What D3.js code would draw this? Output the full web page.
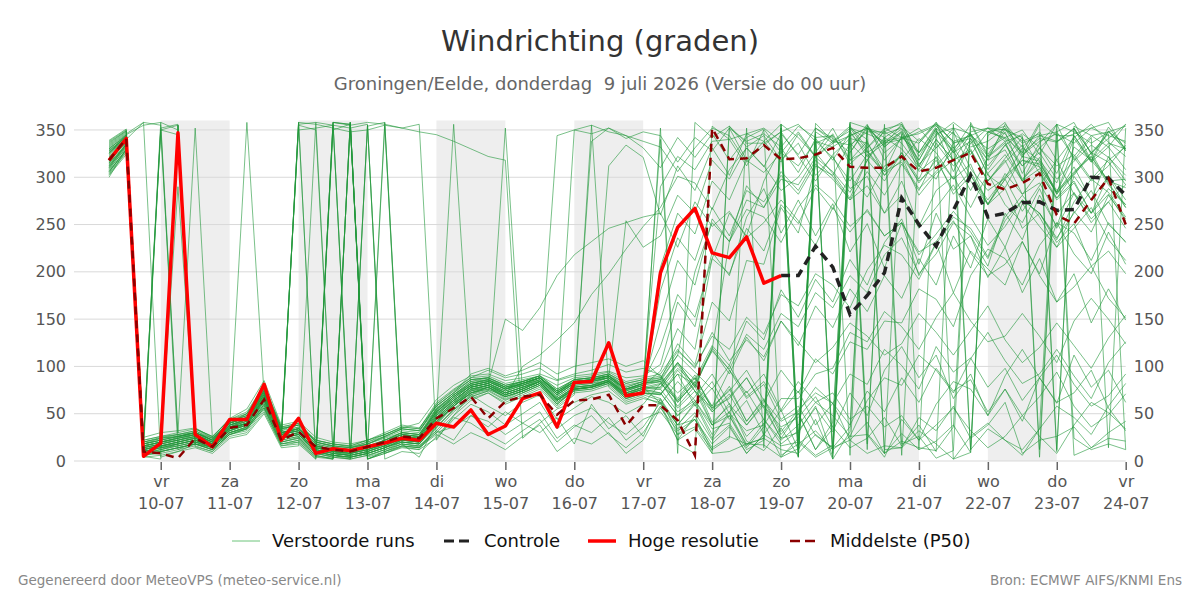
<!DOCTYPE html>
<html>
<head>
<meta charset="utf-8">
<script src="https://cdn.jsdelivr.net/npm/d3@7"></script>
<style>
  body { margin: 0; background: #fff; }
  svg { font-family: "DejaVu Sans", sans-serif; }
</style>
</head>
<body>
<script>
// time steps: hours relative to vr 10-07 00 UTC, 6-hourly from do 9 juli 06 UTC
const stepHours = d3.range(60).map(k => -18 + 6 * k);

const dayNames = ['vr', 'za', 'zo', 'ma', 'di', 'wo', 'do', 'vr', 'za', 'zo', 'ma', 'di', 'wo', 'do', 'vr'];
const dayDates = ['10-07', '11-07', '12-07', '13-07', '14-07', '15-07', '16-07', '17-07', '18-07', '19-07', '20-07', '21-07', '22-07', '23-07', '24-07'];
const yTicks = [0, 50, 100, 150, 200, 250, 300, 350];

const hogeResolutie = [318, 341, 5, 19, 347, 28, 15, 44, 44, 81, 22, 45, 8, 13, 11, 15, 19, 24, 22, 40, 36, 54, 28, 37, 66, 72, 36, 83, 84, 125, 69, 72, 199, 247, 267, 220, 215, 237, 188, 196];

const controle = [null, null, null, null, null, null, null, null, null, null, null, null, null, null, null, null, null, null, null, null,
  null, null, null, null, null, null, null, null, null, null, null, null, null, null, null, null, null, null, null,
  196, 196, 227, 205, 155, 175, 199, 278, 250, 227, 265, 302, 258, 262, 273, 274, 265, 266, 300, 299, 281];

const middelste = [318, 341, 10, 8, 3, 24, 15, 35, 38, 65, 22, 31, 15, 12, 10, 15, 20, 26, 24, 45, 56, 68, 45, 63, 68, 70, 49, 64, 65, 70,
  37, 59, 59, 43, 6, 352, 319, 320, 334, 319, 320, 324, 331, 311, 310, 310, 322, 306, 310, 318, 326, 293, 287, 294, 304, 260, 251, 276, 299, 250];

const verstoordeRuns = [
  [320,338,12,18,22,28,18,38,42,70,28,35,18,10,8,14,22,28,25,55,70,82,85,78,80,88,70,82,85,90,75,80,95,140,118,214,262,238,296,331,305,341,318,347,326,338,351,312,298,336,341,302,289,322,317,284,332,318,296,298],
  [325,342,8,12,18,22,15,32,38,62,25,28,12,8,6,10,18,22,20,45,62,78,82,72,78,85,68,80,82,85,70,78,82,104,78,120,96,66,81,44,58,27,14,36,355,332,349,318,352,2,9,348,354,326,341,337,352,318,353,330],
  [330,345,355,358,350,20,18,36,40,66,30,32,10,355,8,12,358,20,18,40,60,75,80,70,76,84,65,78,80,84,72,78,61,22,48,11,354,332,344,318,336,302,322,288,301,262,296,248,286,301,268,304,271,252,288,246,283,262,302,276],
  [310,335,20,25,28,32,22,40,45,75,32,40,20,15,12,18,25,32,30,60,75,88,96,88,92,98,86,92,96,102,94,98,91,62,84,41,58,26,44,18,32,56,31,72,48,96,121,88,112,66,92,48,76,42,88,61,112,78,96,62],
  [315,340,15,20,25,30,20,40,50,78,35,38,22,18,15,20,28,35,40,65,80,90,92,85,88,92,85,90,92,95,88,90,102,168,142,221,196,258,288,241,276,238,272,221,251,204,252,196,231,178,222,203,186,232,198,252,219,198,242,208],
  [300,330,5,2,355,15,10,30,35,60,22,358,5,358,2,355,8,15,12,35,55,70,75,65,72,80,60,75,78,82,68,72,71,92,58,77,44,64,28,54,12,44,2,31,352,8,346,12,349,328,356,322,348,304,336,356,318,342,14,352],
  [322,336,10,15,20,25,18,35,40,68,25,30,8,5,10,15,20,25,22,42,58,72,78,68,74,82,62,76,79,86,70,76,78,104,86,122,101,148,128,181,152,192,168,213,186,231,256,208,262,224,238,194,226,178,214,168,198,146,182,149],
  [335,348,18,22,290,30,22,42,48,72,30,36,15,12,10,15,22,28,26,52,68,80,84,76,82,88,72,84,86,88,76,82,86,112,94,76,101,68,84,52,74,38,61,22,41,8,29,12,21,38,9,344,358,322,344,338,351,326,346,12],
  [318,340,25,30,32,35,25,45,55,85,38,42,25,20,18,22,30,38,35,58,72,92,98,90,96,104,92,100,104,108,100,106,89,66,91,54,79,42,66,31,54,72,61,92,81,118,101,76,121,94,109,78,98,64,88,112,81,58,69,92],
  [328,342,12,350,355,18,15,34,40,66,28,355,350,10,5,355,15,20,18,38,58,74,80,70,76,84,64,78,80,86,70,76,81,104,79,118,92,131,106,148,122,164,141,182,158,196,172,214,186,238,204,256,226,272,248,226,264,242,281,256],
  [305,330,10,12,16,20,14,30,36,58,20,25,5,3,358,5,12,18,15,30,36,48,42,28,40,52,24,38,30,46,22,36,62,38,44,14,26,18,17,4,13,352,338,334,348,348,358,322,351,306,341,318,329,296,321,282,311,276,301,268],
  [338,350,22,348,30,34,26,44,52,80,36,40,20,16,14,20,26,34,32,55,70,84,88,78,84,90,74,86,88,90,80,84,86,124,102,168,148,212,208,268,241,312,302,336,318,351,356,326,352,331,346,308,334,312,326,298,317,334,321,302],
  [312,334,14,18,22,26,20,36,44,70,28,32,14,10,8,12,18,24,22,48,64,78,82,74,80,86,70,82,84,88,254,226,238,281,262,318,298,331,311,346,324,352,341,326,352,334,356,314,331,348,309,286,299,331,318,294,341,316,349,328],
  [325,345,16,20,24,28,20,38,44,72,30,34,16,12,10,14,20,26,24,50,66,80,84,76,82,88,72,84,86,90,76,82,84,58,79,38,61,21,11,35,5,357,338,349,322,336,348,306,321,282,302,271,288,246,262,231,251,206,222,198],
  [308,332,6,10,14,18,12,28,34,56,18,22,4,2,358,2,10,16,14,28,18,30,22,12,26,38,10,24,18,30,8,22,56,32,44,18,36,8,28,352,22,6,17,344,12,356,18,26,3,11,354,348,351,324,338,346,6,14,24,21],
  [320,340,18,24,26,30,24,40,46,74,32,36,18,14,12,16,22,30,28,54,70,82,86,78,82,88,74,84,86,90,78,84,121,176,152,214,198,246,222,271,251,289,266,301,279,312,322,281,304,318,286,321,336,298,316,282,306,322,296,289],
  [330,344,20,358,26,30,22,42,46,76,32,350,352,355,14,18,24,30,28,56,70,84,86,78,84,88,74,86,88,92,78,84,88,64,81,52,71,38,59,24,51,12,41,356,29,8,21,14,11,36,358,324,351,332,348,318,342,356,337,322],
  [316,338,10,14,18,22,16,32,38,64,24,28,10,6,4,8,14,20,18,40,58,72,76,68,74,82,64,76,78,84,68,74,76,98,82,116,97,134,118,156,142,178,162,196,178,218,236,198,219,252,238,206,262,234,281,248,301,276,322,296],
  [333,346,358,355,12,20,16,34,40,66,24,358,356,352,348,350,355,352,356,22,48,70,78,66,74,82,60,76,78,84,66,72,70,92,81,58,74,96,64,42,52,78,61,38,74,52,88,62,98,74,86,52,76,48,68,94,58,36,49,71],
  [327,341,14,18,355,24,18,36,42,68,26,356,358,6,2,354,358,24,20,44,60,76,80,70,76,84,66,78,338,352,344,331,310,342,321,346,318,342,351,326,348,322,338,354,331,348,336,311,346,352,324,348,341,312,331,348,321,296,312,334],
  [303,326,8,10,14,18,12,28,34,56,18,20,2,358,355,358,356,352,348,345,338,330,322,318,24,40,55,62,70,74,60,66,62,34,51,22,38,8,28,16,20,4,14,352,346,338,342,346,355,326,348,352,338,344,12,346,336,352,358,328],
  [321,339,16,20,22,26,18,36,358,70,28,32,14,10,355,12,18,24,22,48,64,78,82,72,78,86,68,80,82,88,72,78,205,262,240,296,276,318,305,326,312,338,321,296,324,306,344,318,349,326,338,304,324,296,309,278,296,262,288,271],
  [314,336,12,16,20,24,18,34,40,66,26,30,12,8,6,10,16,22,20,46,62,70,58,48,62,70,44,56,68,62,50,60,82,64,88,58,96,72,92,54,84,62,72,44,58,36,48,22,38,56,32,14,26,48,26,8,38,62,51,34],
  [336,349,24,350,345,34,24,42,48,78,34,38,22,18,16,22,28,36,34,62,76,88,90,82,86,90,80,88,90,94,84,88,92,118,98,136,106,128,110,148,126,104,120,146,132,112,124,156,136,112,138,164,128,104,120,146,122,98,130,154],
  [309,331,10,14,16,20,14,30,36,60,22,26,8,4,2,6,12,18,16,32,52,66,72,62,70,78,58,72,74,80,64,70,64,38,62,28,48,14,36,356,22,342,12,358,352,326,341,352,331,352,346,318,356,336,344,348,358,324,348,336],
  [324,341,18,22,26,28,20,38,44,72,30,34,16,12,10,14,20,28,26,52,66,80,84,76,80,88,72,82,84,88,76,80,148,212,186,256,232,291,268,306,286,318,301,276,291,262,281,246,268,292,258,228,248,276,262,234,274,298,284,258],
  [317,337,12,16,20,24,16,34,38,64,24,28,10,6,4,8,14,20,18,42,58,72,78,68,74,82,64,76,78,84,68,74,72,48,68,92,60,38,62,96,72,108,92,126,118,148,146,182,171,142,196,224,214,186,228,252,241,212,252,231],
  [331,343,20,24,28,30,22,40,46,74,30,34,18,14,12,16,22,30,28,54,68,82,86,78,82,88,74,84,86,312,334,321,260,312,286,331,302,346,338,316,346,321,336,352,328,306,316,288,306,328,296,271,298,318,311,284,322,344,332,308],
  [306,328,6,8,12,16,10,26,30,52,16,18,2,358,356,2,8,14,12,24,44,60,52,38,50,62,34,48,56,40,28,44,52,28,36,12,24,352,14,338,4,326,352,318,338,302,326,294,318,286,306,272,298,264,291,318,282,256,274,292],
  [329,342,16,20,24,28,20,38,44,70,28,32,14,10,8,12,18,26,24,50,64,78,82,74,80,86,70,82,84,88,74,80,84,56,74,38,48,18,24,352,6,336,344,318,328,302,318,341,326,298,336,352,346,321,356,12,352,326,341,356],
  [311,333,12,16,18,22,16,32,38,62,22,26,10,6,4,8,14,22,20,44,60,74,78,70,76,84,64,76,78,84,70,76,180,236,212,268,238,286,274,302,282,314,298,276,306,281,314,286,322,298,314,271,304,282,294,261,284,252,274,246],
  [334,347,22,26,28,32,24,42,48,76,34,38,20,16,14,18,26,34,32,58,72,86,88,80,84,90,76,86,88,92,82,86,90,72,88,56,76,42,64,28,50,12,34,358,18,342,6,336,358,318,346,322,338,296,331,312,324,298,318,332],
  [319,339,14,18,22,26,18,36,42,68,26,30,12,8,6,10,16,24,22,46,356,76,80,72,78,84,66,78,80,86,72,78,78,102,74,56,66,88,58,36,46,68,36,14,24,46,16,38,10,356,12,34,22,6,34,58,46,28,58,82],
  [313,335,10,14,18,22,14,30,36,60,20,24,6,2,358,4,10,16,14,36,54,68,74,64,72,80,62,74,76,82,66,72,66,28,44,8,352,338,346,332,354,342,344,6,352,336,340,348,356,346,332,338,352,338,346,10,354,344,348,330],
  [326,340,358,4,10,18,14,32,40,64,24,358,4,350,356,10,354,18,4,40,58,72,78,68,74,82,64,76,78,84,68,74,352,18,8,354,340,346,352,338,4,348,336,344,352,342,354,338,358,336,344,352,350,342,4,338,346,352,344,338],
  [302,324,4,6,10,14,8,24,28,50,14,16,358,355,352,356,2,10,8,26,46,40,28,18,32,44,20,36,48,28,14,30,58,22,34,8,10,18,24,12,8,28,14,22,8,16,14,32,18,2,26,40,22,12,34,356,24,12,18,12],
  [332,345,20,24,26,30,22,40,46,74,30,34,16,12,10,14,22,30,28,52,68,82,86,76,82,88,72,84,86,90,76,82,340,8,358,342,354,336,336,348,356,338,332,344,352,346,352,326,344,358,344,330,342,350,324,356,348,336,348,354],
  [307,329,8,12,16,20,14,30,34,58,20,24,8,4,2,6,12,20,18,36,54,68,74,352,72,80,60,74,76,82,66,72,70,96,74,52,68,88,56,24,30,58,4,352,340,12,14,46,32,58,24,38,62,8,22,26,36,14,30,42],
  [339,351,24,352,356,34,26,44,50,80,36,40,22,18,16,22,28,36,34,60,74,86,88,80,84,90,344,350,346,352,341,348,344,316,342,328,352,318,338,356,342,322,346,314,331,352,342,326,354,338,344,312,334,346,332,304,344,318,336,330],
  [315,334,12,16,20,24,18,34,40,66,26,30,12,8,6,10,16,24,22,46,62,76,80,72,78,84,66,350,355,348,344,338,332,306,331,352,344,316,334,348,322,296,324,341,336,308,322,296,312,332,302,276,301,318,314,286,304,322,292,271],
  [323,340,16,20,24,28,20,38,44,70,28,32,14,10,8,12,18,26,24,48,64,78,82,150,138,162,196,218,232,246,252,258,262,226,274,248,264,236,252,276,254,228,268,242,266,238,252,218,240,264,242,214,254,276,262,236,262,286,250,232],
  [310,333,10,14,18,22,16,32,38,64,24,28,10,6,4,8,14,22,20,42,58,72,76,68,100,112,128,146,176,198,224,248,268,301,294,266,308,331,312,286,300,326,304,278,318,296,326,298,336,312,328,296,320,342,311,284,302,326,294,268],
  [328,343,18,22,26,30,22,40,46,72,30,34,16,12,10,14,20,28,26,52,66,80,84,76,82,88,72,84,86,90,76,82,86,62,84,118,232,266,258,231,268,292,276,248,264,238,252,221,232,258,246,216,258,281,258,226,246,268,234,212],
  [304,327,6,10,14,18,12,28,32,54,16,20,4,358,356,2,8,16,14,30,48,64,72,60,68,76,56,70,355,78,62,68,60,84,64,38,52,74,44,22,38,62,48,26,64,88,80,112,96,72,108,136,106,82,92,118,90,66,104,126],
  [337,349,22,26,30,352,24,42,50,78,34,38,20,16,14,18,26,34,32,58,72,86,88,80,84,90,76,86,88,92,82,86,88,116,100,132,118,152,134,176,164,198,186,162,202,228,218,192,230,254,220,196,208,232,196,168,184,206,172,151],
  [318,338,14,18,22,26,18,36,42,68,26,30,12,8,6,10,16,24,22,46,62,76,80,72,78,84,66,78,80,86,72,78,76,52,64,34,40,12,22,356,10,342,2,326,354,332,347,312,340,318,330,296,318,282,306,276,294,262,282,254],
  [321,339,16,20,24,28,20,38,44,70,28,32,14,10,8,12,18,26,24,50,64,78,82,74,80,86,70,82,84,88,74,80,290,322,308,338,340,312,350,6,18,32,12,26,28,4,44,22,60,84,76,48,90,118,88,62,72,96,56,32],
  [312,335,12,16,20,24,16,34,40,66,24,28,10,6,4,8,14,22,20,44,60,74,78,70,76,84,64,76,78,84,70,76,72,48,62,84,50,32,38,66,66,92,98,136,126,158,142,118,152,178,148,126,132,156,132,104,148,172,150,124],
  [326,344,18,22,26,30,22,40,46,74,30,34,16,12,10,14,20,28,26,52,68,80,84,76,82,88,72,84,86,90,76,82,84,112,200,252,232,276,268,298,292,321,306,284,318,342,330,308,340,318,328,296,316,334,304,278,304,326,316,292],
  [306,329,8,10,14,18,12,28,34,56,18,22,6,2,358,2,10,18,16,32,22,48,36,52,40,30,46,18,60,34,48,26,66,38,60,24,52,16,40,4,24,346,8,332,356,318,342,336,356,338,12,348,342,326,358,344,344,316,332,356]
];

const width = 1200, height = 600;
const plotLeft = 74, plotRight = 1125.7, plotTop = 120.5, plotBottom = 461;

const svg = d3.select('body').append('svg').attr('width', width).attr('height', height);

const x = d3.scaleLinear().domain([-30.2, 336]).range([plotLeft, plotRight]);
const y = d3.scaleLinear().domain([0, 360]).range([plotBottom, plotTop]);

// titles
svg.append('text').attr('x', 600).attr('y', 51).attr('text-anchor', 'middle')
  .attr('font-size', 29).attr('fill', '#333').text('Windrichting (graden)');
svg.append('text').attr('x', 600).attr('y', 90).attr('text-anchor', 'middle')
  .attr('font-size', 18).attr('fill', '#666').style('white-space', 'pre')
  .text('Groningen/Eelde, donderdag  9 juli 2026 (Versie do 00 uur)');

// alternate day shading
svg.append('g').selectAll('rect')
  .data(d3.range(0, 14, 2))
  .enter().append('rect')
  .attr('x', i => x(24 * i))
  .attr('width', i => x(24 * (i + 1)) - x(24 * i))
  .attr('y', plotTop)
  .attr('height', plotBottom - plotTop)
  .attr('fill', '#eeeeee');

// horizontal grid
svg.append('g').selectAll('line')
  .data(yTicks)
  .enter().append('line')
  .attr('x1', plotLeft).attr('x2', plotRight)
  .attr('y1', d => y(d)).attr('y2', d => y(d))
  .attr('stroke', '#d9d9d9').attr('stroke-width', 1);

// y axes, both sides
const yLeft = svg.append('g').attr('transform', `translate(${plotLeft},0)`)
  .call(d3.axisLeft(y).tickValues(yTicks).tickSize(0).tickPadding(8));
const yRight = svg.append('g').attr('transform', `translate(${plotRight},0)`)
  .call(d3.axisRight(y).tickValues(yTicks).tickSize(0).tickPadding(8));
[yLeft, yRight].forEach(g => {
  g.select('.domain').remove();
  g.selectAll('text').attr('font-size', 16).attr('fill', '#555').attr('font-family', '"DejaVu Sans", sans-serif');
});

// x axis with day ticks, two-line labels
const xAxis = svg.append('g').attr('transform', `translate(0,${plotBottom + 1})`)
  .call(d3.axisBottom(x).tickValues(d3.range(0, 15).map(i => 24 * i)).tickSize(8).tickFormat(''));
xAxis.select('.domain').remove();
xAxis.selectAll('.tick line').attr('stroke', '#666').attr('stroke-width', 1.5);
xAxis.selectAll('.tick').each(function (d, i) {
  const t = d3.select(this).select('text')
    .attr('y', null).attr('dy', null)
    .attr('font-size', 16).attr('fill', '#555').attr('font-family', '"DejaVu Sans", sans-serif');
  t.append('tspan').attr('x', 0).attr('y', 25).text(dayNames[i]);
  t.append('tspan').attr('x', 0).attr('y', 47).text(dayDates[i]);
});

const line = d3.line()
  .defined(d => d != null)
  .x((d, i) => x(stepHours[i]))
  .y(d => y(d));

const plot = svg.append('g');

plot.selectAll('path.run')
  .data(verstoordeRuns)
  .enter().append('path')
  .attr('class', 'run')
  .attr('d', line)
  .attr('fill', 'none')
  .attr('stroke', '#22973a')
  .attr('stroke-opacity', 0.6)
  .attr('stroke-width', 1);

plot.append('path').attr('d', line(controle))
  .attr('fill', 'none').attr('stroke', '#222').attr('stroke-width', 3.5)
  .attr('stroke-dasharray', '9,6');

plot.append('path').attr('d', line(hogeResolutie))
  .attr('fill', 'none').attr('stroke', '#ff0000').attr('stroke-width', 3.5)
  .attr('stroke-linejoin', 'round');

plot.append('path').attr('d', line(middelste))
  .attr('fill', 'none').attr('stroke', '#8b0000').attr('stroke-width', 2.5)
  .attr('stroke-dasharray', '8,6');

// legend
const legendItems = [
  { label: 'Verstoorde runs', x: 232, color: '#6cc47a', width: 1, dash: null },
  { label: 'Controle', x: 444, color: '#222', width: 3, dash: '10,5' },
  { label: 'Hoge resolutie', x: 588, color: '#ff0000', width: 3.5, dash: null },
  { label: 'Middelste (P50)', x: 790, color: '#8b0000', width: 2.5, dash: '10,5' }
];
const legend = svg.append('g').selectAll('g')
  .data(legendItems)
  .enter().append('g')
  .attr('transform', d => `translate(${d.x},541)`);
legend.append('line')
  .attr('x1', 0).attr('x2', d => d.dash ? 25 : 28).attr('y1', 0).attr('y2', 0)
  .attr('stroke', d => d.color).attr('stroke-width', d => d.width)
  .attr('stroke-dasharray', d => d.dash);
legend.append('text')
  .attr('x', 40).attr('y', 6)
  .attr('font-size', 18).attr('fill', '#111')
  .text(d => d.label);

// footer
svg.append('text').attr('x', 18).attr('y', 585).attr('font-size', 13.5).attr('fill', '#888')
  .text('Gegenereerd door MeteoVPS (meteo-service.nl)');
svg.append('text').attr('x', 1182).attr('y', 585).attr('text-anchor', 'end').attr('font-size', 13.5).attr('fill', '#888')
  .text('Bron: ECMWF AIFS/KNMI Ens');
</script>
</body>
</html>
